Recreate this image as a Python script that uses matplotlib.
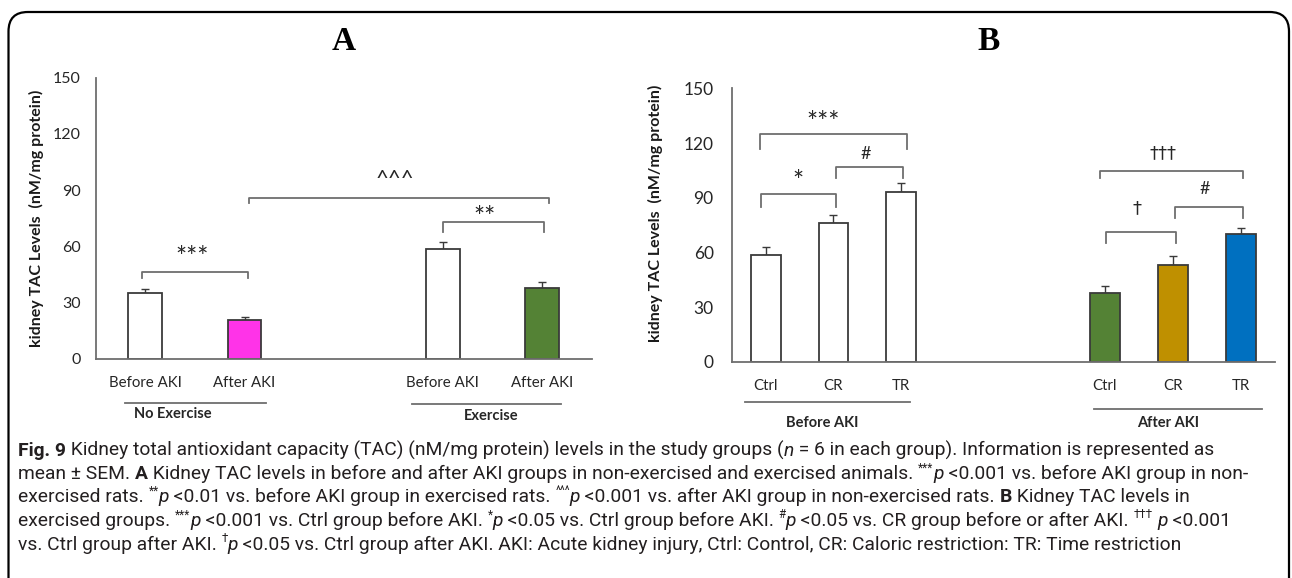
import matplotlib.pyplot as plt
from matplotlib.patches import FancyBboxPatch
from matplotlib import font_manager

# Painel A: exercício x sem exercício, antes/depois da AKI
grupos_a = ['Before AKI', 'After AKI', 'Before AKI', 'After AKI']
tac_a = [35.3, 20.8, 58.8, 38.0]
sem_a = [1.8, 1.4, 3.5, 3.0]
cores_a = ['white', '#FF33E8', 'white', '#548235']

# Painel B: Ctrl / CR / TR antes e depois da AKI
grupos_b = ['Ctrl', 'CR', 'TR', 'Ctrl', 'CR', 'TR']
tac_b = [58.6, 76.3, 93.3, 38.0, 53.2, 70.0]
sem_b = [4.2, 4.2, 4.9, 3.6, 4.9, 3.3]
cores_b = ['white', 'white', 'white', '#548235', '#BF9000', '#0070C0']

yticks = [0, 30, 60, 90, 120, 150]
ylabel = 'kidney TAC Levels  (nM/mg protein)'

# colchetes de significância: (x inicial, x final, perna, topo, símbolo, x do texto, y do texto)
colchetes_a = [
    (-0.03, 1.04, 43.0, 46.5, '***', 0.47, 53.5),
    (3.00, 4.02, 67.8, 73.2, '**', 3.42, 75.0),
    (1.05, 4.07, 83.0, 85.6, '^^^', 2.52, 96.0),
]
colchetes_b = [
    (-0.09, 2.08, 117.0, 124.8, '***', 0.85, 130.5),
    (-0.07, 1.04, 84.8, 92.0, '*', 0.47, 98.5),
    (1.04, 2.02, 100.6, 107.0, '#', 1.47, 114.0),
    (4.93, 7.03, 100.8, 104.8, '†††', 5.86, 114.3),
    (5.02, 6.05, 65.0, 71.4, '†', 5.47, 84.2),
    (6.04, 7.04, 78.7, 85.1, '#', 6.47, 94.6),
]

FONTE = 'Lato'
CINZA = '#6e6e6e'
BORDA = '#3a3a3a'

W, H = 1292, 578
fig = plt.figure(figsize=(W / 100, H / 100), dpi=100)


def eixo_px(esq, dir_, topo, base):
    return fig.add_axes([esq / W, 1 - base / H, (dir_ - esq) / W, (base - topo) / H])


def painel(ax, pos, vals, erros, cores, nomes, colchetes, xmax, largura, tam_tick):
    ax.bar(pos, vals, width=largura, color=cores, edgecolor=BORDA, linewidth=1.3, zorder=2)
    ax.errorbar(pos, vals, yerr=[[0] * len(vals), erros], fmt='none', ecolor=BORDA,
                elinewidth=1.0, capsize=3, capthick=1.0, zorder=1)
    ax.set_xlim(-0.5, xmax)
    ax.set_ylim(0, 150)
    ax.set_yticks(yticks)
    ax.set_xticks(pos)
    ax.set_xticklabels(nomes, fontfamily=FONTE, fontsize=10.8, color='#262626')
    for t in ax.get_yticklabels():
        t.set_fontfamily(FONTE)
        t.set_fontsize(tam_tick)
        t.set_color('#262626')
    for lado in ['top', 'right']:
        ax.spines[lado].set_visible(False)
    for lado in ['left', 'bottom']:
        ax.spines[lado].set_color(CINZA)
        ax.spines[lado].set_linewidth(1.3)
    ax.tick_params(length=0)
    for x0, x1, yl, yt, simb, xt, ytx in colchetes:
        ax.plot([x0, x0, x1, x1], [yl, yt, yt, yl], color=CINZA, lw=1.3, clip_on=False)
        if '*' in simb:
            tam = 19
        elif simb == '^^^':
            tam = 16
        else:
            tam = 13
        ax.text(xt, ytx, simb, ha='center', va='center', fontsize=tam,
                fontfamily=['DejaVu Sans'] if '†' in simb else FONTE, color='#262626')


def grupo(ax, x0, x1, yl, texto, xt, yt):
    tr = ax.get_xaxis_transform()
    ax.plot([x0, x1], [yl, yl], transform=tr, color=CINZA, lw=1.3, clip_on=False)
    ax.text(xt, yt, texto, transform=tr, ha='center', va='center', fontsize=10.5,
            fontweight='bold', fontfamily=FONTE, color='#262626')


# --- painel A
axa = eixo_px(95.7, 591.7, 77.5, 359)
painel(axa, [0, 1, 3, 4], tac_a, sem_a, cores_a, grupos_a, colchetes_a, 4.5, 0.34, 11.5)
axa.tick_params(axis='y', pad=11)
axa.tick_params(axis='x', pad=12)
grupo(axa, -0.2, 1.22, -0.157, 'No Exercise', 0.28, -0.195)
grupo(axa, 2.69, 4.19, -0.161, 'Exercise', 3.49, -0.201)

# --- painel B
axb = eixo_px(731.7, 1274.5, 88.3, 362)
painel(axb, [0, 1, 2, 5, 6, 7], tac_b, sem_b, cores_b, grupos_b, colchetes_b, 7.5, 0.44, 12.5)
axb.tick_params(axis='y', pad=13)
axb.tick_params(axis='x', pad=12)
grupo(axb, -0.30, 2.13, -0.147, 'Before AKI', 0.84, -0.223)
grupo(axb, 4.84, 7.31, -0.172, 'After AKI', 5.93, -0.222)

for xc, yc in [(36.7, 218), (655, 213)]:
    fig.text(xc / W, 1 - yc / H, ylabel, rotation=90, ha='center', va='center',
             fontsize=11.5, fontweight='bold', fontfamily=FONTE, color='#1a1a1a')

for letra, xc in [('A', 344), ('B', 989)]:
    fig.text(xc / W, 1 - 42 / H, letra, ha='center', va='center', fontsize=24,
             fontweight='bold', fontfamily='Liberation Serif', color='black')

# moldura arredondada do quadro
moldura = FancyBboxPatch((8.5 / W, -0.1), (1289 - 8.5) / W, 1.1 - 12 / H,
                         boxstyle='round,pad=0,rounding_size=0.015', transform=fig.transFigure,
                         fill=False, edgecolor='black', linewidth=1.6, mutation_aspect=W / H)
fig.patches.append(moldura)

# --- legenda da figura (texto corrido com negrito, itálico e sobrescritos)
nomes_instalados = {f.name for f in font_manager.fontManager.ttflist}
FONTE_LEG = 'Liberation Sans Narrow' if 'Liberation Sans Narrow' in nomes_instalados else 'Roboto'
TAM_LEG = 15.8 if FONTE_LEG == 'Liberation Sans Narrow' else 13.9

linhas = [
    [('Fig. 9', 'b'), (' Kidney total antioxidant capacity (TAC) (nM/mg protein) levels in the study groups (', 'n'),
     ('n', 'i'), (' = 6 in each group). Information is represented as', 'n')],
    [('mean ± SEM. ', 'n'), ('A', 'b'),
     (' Kidney TAC levels in before and after AKI groups in non-exercised and exercised animals. ', 'n'),
     ('***', 's'), ('p', 'i'), (' <0.001 vs. before AKI group in non-', 'n')],
    [('exercised rats. ', 'n'), ('**', 's'), ('p', 'i'), (' <0.01 vs. before AKI group in exercised rats. ', 'n'),
     ('^^^', 's'), ('p', 'i'), (' <0.001 vs. after AKI group in non-exercised rats. ', 'n'), ('B', 'b'),
     (' Kidney TAC levels in', 'n')],
    [('exercised groups. ', 'n'), ('***', 's'), ('p', 'i'), (' <0.001 vs. Ctrl group before AKI. ', 'n'),
     ('*', 's'), ('p', 'i'), (' <0.05 vs. Ctrl group before AKI. ', 'n'), ('#', 's'), ('p', 'i'),
     (' <0.05 vs. CR group before or after AKI. ', 'n'), ('†††', 's'), (' ', 'n'), ('p', 'i'), (' <0.001', 'n')],
    [('vs. Ctrl group after AKI. ', 'n'), ('†', 's'), ('p', 'i'),
     (' <0.05 vs. Ctrl group after AKI. AKI: Acute kidney injury, Ctrl: Control, CR: Caloric restriction: TR: Time restriction', 'n')],
]
bases_leg = [455.5, 479, 502.5, 526, 549.5]

renderer = fig.canvas.get_renderer()


def estilo(tipo):
    kw = dict(fontfamily=[FONTE_LEG, 'DejaVu Sans'], fontsize=TAM_LEG, color='#231f20')
    if tipo == 'b':
        kw['fontweight'] = 'bold'
    elif tipo == 'i':
        kw['fontstyle'] = 'italic'
    elif tipo == 's':
        kw['fontsize'] = TAM_LEG * 0.6
    return kw


def largura(texto, kw):
    t = fig.text(0, 0, '|' + texto + '|', **kw)
    w1 = t.get_window_extent(renderer).width
    t.remove()
    t = fig.text(0, 0, '||', **kw)
    w0 = t.get_window_extent(renderer).width
    t.remove()
    return w1 - w0


for linha, yb in zip(linhas, bases_leg):
    x = 18.0
    for texto, tipo in linha:
        kw = estilo(tipo)
        dy = 7.5 if tipo == 's' else 0
        fig.text(x / W, 1 - (yb - dy) / H, texto, ha='left', va='baseline', **kw)
        x += largura(texto, kw)

fig.savefig('out.png', dpi=100)
